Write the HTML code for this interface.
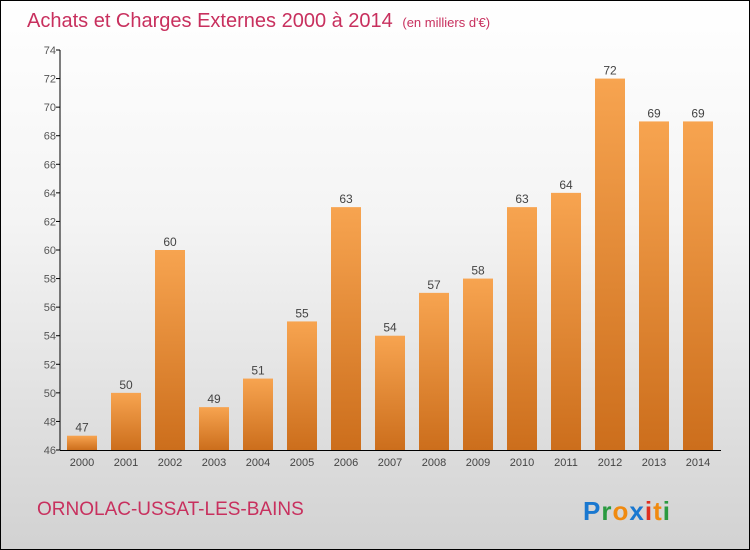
<!DOCTYPE html>
<html><head><meta charset="utf-8"><style>
body{margin:0}
#c{width:748px;height:548px;border:1px solid #000;position:relative;background:linear-gradient(#ffffff,#f4f4f4 40%,#d2d2d2);font-family:"Liberation Sans",sans-serif;overflow:hidden}
</style></head><body>
<div id="c">
<svg width="748" height="548" id="svg">
<defs><linearGradient id="bg" x1="0" y1="0" x2="0" y2="1"><stop offset="0" stop-color="#f7a450"/><stop offset="1" stop-color="#cc6e1c"/></linearGradient></defs>
<text x="26" y="26" font-size="20" fill="#c8305e">Achats et Charges Externes 2000 à 2014 <tspan font-size="13" dx="4">(en milliers d'€)</tspan></text>
<text x="36" y="514" font-size="19" fill="#c8305e">ORNOLAC-USSAT-LES-BAINS</text>
<g font-size="26" font-weight="bold"><text x="582" y="519" letter-spacing="1"><tspan fill="#1a78d0">P</tspan><tspan fill="#2a9a40">r</tspan><tspan fill="#f08a10">o</tspan><tspan fill="#1a78d0">x</tspan><tspan fill="#e03020">i</tspan><tspan fill="#f08a10">t</tspan><tspan fill="#2a9a40">i</tspan></text></g>
<g id="g"></g>
</svg>
</div>
<script>
const years=["2000","2001","2002","2003","2004","2005","2006","2007","2008","2009","2010","2011","2012","2013","2014"];
const values=[47,50,60,49,51,55,63,54,57,58,63,64,72,69,69];
const yTicks=[46,48,50,52,54,56,58,60,62,64,66,68,70,72,74];
const NS="http://www.w3.org/2000/svg";
const g=document.getElementById('g');
const y=v=>449-(v-46)*(400/28);
const x=i=>81+i*44;
function mk(t,a,txt){const e=document.createElementNS(NS,t);for(const k in a)e.setAttribute(k,a[k]);if(txt!=null)e.textContent=txt;g.appendChild(e);return e;}
yTicks.forEach(v=>{
 const l=mk('line',{x1:55,x2:59,y1:y(v),y2:y(v),stroke:'#000'});
 
 
 const t=mk('text',{x:55,y:y(v)+4,'font-size':11,fill:'#555','text-anchor':'end'},v);
 
 
});
values.forEach((v,i)=>{
 const r=mk('rect',{x:x(i)-15,y:y(v),width:30,height:449-y(v),fill:'url(#bg)'});
 
 
 const t=mk('text',{x:x(i),y:y(v)-4,'font-size':12,fill:'#444','text-anchor':'middle'},v);
 
 
 const xl=mk('text',{x:x(i),y:465,'font-size':11,fill:'#444','text-anchor':'middle'},years[i]);
 
 
});
const ya=mk('line',{x1:59,x2:59,y1:49,y2:449,stroke:'#000'});


const xa=mk('line',{x1:59,x2:720,y1:449.5,y2:449.5,stroke:'#000'});


</script>
</body></html>
